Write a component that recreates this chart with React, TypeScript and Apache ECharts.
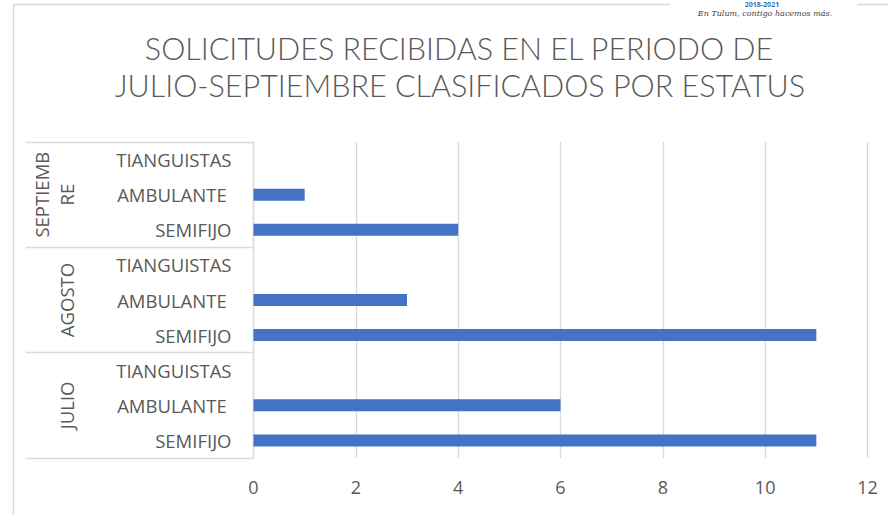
import React, { useEffect, useRef } from "react";
import * as echarts from "echarts";

const titleLines = ["SOLICITUDES RECIBIDAS EN EL PERIODO DE", "JULIO-SEPTIEMBRE CLASIFICADOS POR ESTATUS"];
const months = ["JULIO", "AGOSTO", "SEPTIEMB\nRE"];
const statuses = ["SEMIFIJO", "AMBULANTE ", "TIANGUISTAS"];
const julioValues = [11, 6, null];
const agostoValues = [11, 3, null];
const septiembreValues = [4, 1, null];
const xTicks = { min: 0, max: 12, interval: 2 };

const categories: string[] = [];
const values: (number | null)[] = [];
[julioValues, agostoValues, septiembreValues].forEach((arr) => {
  statuses.forEach((s, i) => {
    categories.push(s);
    values.push(arr[i]);
  });
});

const TITLE_FONT = "Lato, 'Open Sans', sans-serif";
const FONT = "'Open Sans', Lato, sans-serif";
const GRAY = "#595959";
const LINE = "#d9d9d9";

export default function App() {
  const ref = useRef<HTMLDivElement>(null);
  useEffect(() => {
    if (!ref.current) return;
    const chart = echarts.init(ref.current, undefined, { renderer: "svg" });
    chart.setOption({
      animation: false,
      backgroundColor: "#ffffff",
      grid: { left: 253.5, right: 20.5, top: 142, bottom: 57, containLabel: false },
      graphic: [
        {
          type: "rect",
          shape: { x: 13.5, y: 4.5, width: 1000, height: 1000 },
          style: { fill: "none", stroke: LINE, lineWidth: 1.5 },
          silent: true,
          z: -10,
        },
        {
          type: "rect",
          shape: { x: 670, y: 0, width: 187, height: 12 },
          style: { fill: "#ffffff" },
          z: -5,
        },
        {
          type: "text",
          x: 762,
          y: 1,
          style: { text: "2018-2021", fill: "#2e75b6", font: "bold 7px " + FONT, align: "center" },
        },
        {
          type: "text",
          x: 765,
          y: 9,
          style: {
            text: "En Tulum, contigo hacemos más.",
            fill: "#404040",
            font: "italic 8px 'DejaVu Serif', serif",
            align: "center",
          },
        },
        {
          type: "text",
          x: 459,
          y: 47.5,
          style: { text: titleLines[0], fill: GRAY, font: "300 30.5px " + TITLE_FONT, align: "center", verticalAlign: "middle" },
        },
        {
          type: "text",
          x: 460,
          y: 84.5,
          style: { text: titleLines[1], fill: GRAY, font: "300 30.5px " + TITLE_FONT, align: "center", verticalAlign: "middle" },
        },
      ],
      xAxis: {
        type: "value",
        min: xTicks.min,
        max: xTicks.max,
        interval: xTicks.interval,
        axisLine: { show: false },
        axisTick: { show: false },
        splitLine: { show: true, lineStyle: { color: LINE, width: 1.3 } },
        axisLabel: { color: GRAY, fontSize: 18, fontFamily: FONT, margin: 20 },
      },
      yAxis: [
        {
          type: "category",
          data: categories,
          axisLine: { show: true, lineStyle: { color: LINE, width: 1.3 } },
          axisTick: { show: false },
          axisLabel: { color: GRAY, fontSize: 18.5, fontFamily: FONT, margin: 22, interval: 0 },
        },
        {
          type: "category",
          position: "left",
          data: months,
          axisLine: { show: false },
          axisTick: { show: true, length: 228, lineStyle: { color: LINE, width: 1.3 } },
          axisLabel: {
            rotate: 90,
            interval: 0,
            color: GRAY,
            fontSize: 18.5,
            fontFamily: FONT,
            margin: 175,
            lineHeight: 25,
          },
        },
      ],
      series: [
        {
          type: "bar",
          yAxisIndex: 0,
          data: values,
          barWidth: 12,
          itemStyle: { color: "#4472c4" },
        },
      ],
    });
    return () => chart.dispose();
  }, []);
  return (
    <div
      ref={ref}
      style={{ position: "fixed", left: 0, top: 0, width: 888, height: 515, background: "#fff" }}
    />
  );
}
